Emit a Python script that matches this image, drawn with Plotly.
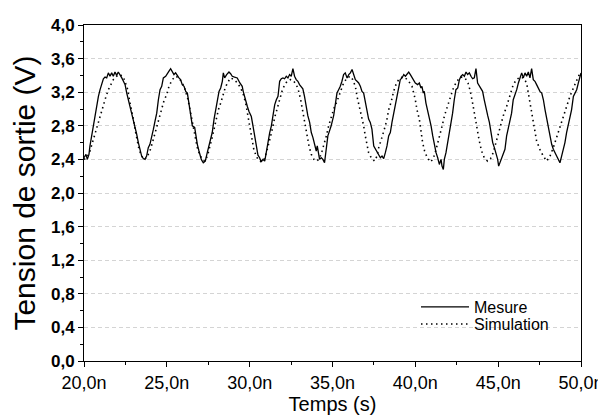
import plotly.graph_objects as go

# Mesure (time in ns, voltage in V)
mesure_points = [
    (20.00, 2.42), (20.12, 2.46), (20.20, 2.40), (20.30, 2.46), (20.36, 2.56), (20.46, 2.68), (20.56, 2.80), (20.67, 2.92), (20.77, 3.03), (20.87, 3.15),
    (20.97, 3.23), (21.07, 3.29), (21.17, 3.36), (21.27, 3.38), (21.37, 3.37), (21.47, 3.43), (21.57, 3.39), (21.67, 3.43), (21.77, 3.39), (21.87, 3.44),
    (21.97, 3.40), (22.07, 3.44), (22.17, 3.41), (22.28, 3.37), (22.38, 3.33), (22.48, 3.29), (22.58, 3.19), (22.68, 3.11), (22.78, 3.01), (22.88, 2.94),
    (22.98, 2.88), (23.08, 2.78), (23.18, 2.70), (23.28, 2.60), (23.38, 2.50), (23.48, 2.44), (23.58, 2.41), (23.68, 2.40), (23.78, 2.44), (23.88, 2.54),
    (23.98, 2.58), (24.09, 2.66), (24.19, 2.76), (24.29, 2.86), (24.39, 2.95), (24.49, 3.11), (24.59, 3.23), (24.69, 3.27), (24.79, 3.37), (24.93, 3.39),
    (25.03, 3.43), (25.13, 3.45), (25.23, 3.48), (25.33, 3.45), (25.43, 3.41), (25.53, 3.43), (25.63, 3.39), (25.73, 3.37), (25.83, 3.35), (25.93, 3.29),
    (26.04, 3.27), (26.14, 3.21), (26.24, 3.19), (26.34, 3.07), (26.44, 2.95), (26.54, 2.80), (26.68, 2.78), (26.78, 2.64), (26.84, 2.58), (26.94, 2.50),
    (27.08, 2.40), (27.20, 2.36), (27.32, 2.38), (27.44, 2.48), (27.60, 2.60), (27.74, 2.72), (27.85, 2.88), (27.95, 2.99), (28.05, 3.11), (28.15, 3.21),
    (28.25, 3.25), (28.35, 3.33), (28.41, 3.43), (28.49, 3.37), (28.61, 3.41), (28.75, 3.44), (28.85, 3.42), (28.95, 3.39), (29.09, 3.38), (29.25, 3.37),
    (29.41, 3.31), (29.55, 3.27), (29.61, 3.21), (29.76, 3.09), (29.86, 3.03), (29.96, 2.97), (30.10, 2.91), (30.20, 2.80), (30.30, 2.68), (30.40, 2.54),
    (30.50, 2.45), (30.60, 2.42), (30.70, 2.37), (30.80, 2.40), (30.91, 2.38), (31.00, 2.48), (31.11, 2.64), (31.21, 2.72), (31.31, 2.80), (31.41, 2.93),
    (31.51, 3.05), (31.61, 3.11), (31.71, 3.15), (31.81, 3.33), (31.91, 3.36), (32.01, 3.37), (32.11, 3.36), (32.21, 3.39), (32.31, 3.37), (32.41, 3.41),
    (32.51, 3.39), (32.61, 3.48), (32.71, 3.39), (32.81, 3.35), (32.91, 3.33), (33.01, 3.29), (33.11, 3.27), (33.21, 3.24), (33.31, 3.15), (33.41, 3.03),
    (33.51, 2.92), (33.62, 2.84), (33.72, 2.72), (33.82, 2.66), (33.92, 2.56), (34.02, 2.50), (34.08, 2.56), (34.16, 2.44), (34.22, 2.40), (34.32, 2.42),
    (34.42, 2.40), (34.52, 2.36), (34.62, 2.56), (34.72, 2.68), (34.82, 2.74), (34.92, 2.80), (35.07, 2.92), (35.17, 3.07), (35.27, 3.19), (35.37, 3.23),
    (35.47, 3.27), (35.57, 3.33), (35.67, 3.41), (35.77, 3.43), (35.88, 3.37), (35.98, 3.41), (36.08, 3.43), (36.18, 3.47), (36.28, 3.41), (36.38, 3.35),
    (36.48, 3.33), (36.58, 3.31), (36.68, 3.27), (36.78, 3.21), (36.88, 3.19), (36.98, 3.09), (37.08, 2.99), (37.18, 2.88), (37.28, 2.84), (37.38, 2.76),
    (37.49, 2.56), (37.59, 2.52), (37.69, 2.48), (37.79, 2.44), (37.89, 2.42), (37.99, 2.44), (38.09, 2.41), (38.19, 2.48), (38.29, 2.56), (38.39, 2.68),
    (38.49, 2.72), (38.59, 2.84), (38.69, 2.95), (38.79, 3.07), (38.89, 3.17), (38.99, 3.25), (39.09, 3.35), (39.20, 3.37), (39.30, 3.41), (39.40, 3.39),
    (39.50, 3.41), (39.60, 3.44), (39.70, 3.41), (39.80, 3.37), (39.90, 3.33), (40.00, 3.31), (40.14, 3.29), (40.24, 3.31), (40.34, 3.25), (40.40, 3.27),
    (40.48, 3.19), (40.54, 3.21), (40.64, 3.07), (40.74, 2.99), (40.84, 2.88), (40.95, 2.80), (41.05, 2.68), (41.15, 2.56), (41.25, 2.48), (41.35, 2.42),
    (41.45, 2.34), (41.55, 2.40), (41.61, 2.32), (41.69, 2.28), (41.75, 2.40), (41.85, 2.48), (41.95, 2.60), (42.05, 2.72), (42.15, 2.80), (42.25, 2.95),
    (42.35, 3.11), (42.45, 3.23), (42.56, 3.25), (42.66, 3.35), (42.76, 3.39), (42.86, 3.41), (42.96, 3.39), (43.06, 3.44), (43.16, 3.41), (43.26, 3.43),
    (43.36, 3.39), (43.46, 3.36), (43.56, 3.37), (43.66, 3.48), (43.76, 3.31), (43.86, 3.27), (43.96, 3.23), (44.06, 3.21), (44.16, 3.11), (44.27, 2.99),
    (44.37, 2.92), (44.47, 2.84), (44.57, 2.72), (44.67, 2.60), (44.77, 2.54), (44.87, 2.48), (44.97, 2.40), (45.03, 2.32), (45.11, 2.36), (45.23, 2.42),
    (45.31, 2.48), (45.41, 2.52), (45.51, 2.68), (45.61, 2.76), (45.71, 2.84), (45.81, 2.95), (45.91, 3.11), (46.02, 3.17), (46.12, 3.23), (46.22, 3.31),
    (46.32, 3.37), (46.42, 3.43), (46.52, 3.37), (46.62, 3.43), (46.72, 3.39), (46.82, 3.44), (46.92, 3.37), (47.02, 3.48), (47.12, 3.35), (47.22, 3.33),
    (47.32, 3.29), (47.42, 3.25), (47.52, 3.21), (47.63, 3.19), (47.73, 3.11), (47.83, 2.99), (47.93, 2.88), (48.03, 2.80), (48.13, 2.68), (48.23, 2.58),
    (48.33, 2.52), (48.43, 2.48), (48.53, 2.44), (48.63, 2.40), (48.73, 2.36), (48.83, 2.44), (48.93, 2.52), (49.03, 2.60), (49.13, 2.72), (49.23, 2.80),
    (49.33, 2.88), (49.43, 2.99), (49.54, 3.15), (49.64, 3.19), (49.74, 3.23), (49.84, 3.31), (49.94, 3.39), (50.00, 3.43),
]

# Simulation (time in ns, voltage in V)
simulation_points = [
    (20.00, 2.40), (20.20, 2.43), (20.36, 2.50), (20.48, 2.58), (20.60, 2.66), (20.73, 2.76), (20.87, 2.86), (21.01, 2.96), (21.17, 3.05), (21.33, 3.15),
    (21.47, 3.23), (21.61, 3.29), (21.77, 3.35), (21.97, 3.39), (22.17, 3.41), (22.38, 3.38), (22.52, 3.31), (22.64, 3.23), (22.74, 3.11), (22.88, 2.99),
    (22.98, 2.88), (23.08, 2.76), (23.18, 2.64), (23.32, 2.52), (23.48, 2.44), (23.62, 2.40), (23.78, 2.42), (23.98, 2.50), (24.13, 2.60), (24.27, 2.70),
    (24.39, 2.80), (24.53, 2.91), (24.69, 3.02), (24.83, 3.10), (24.99, 3.17), (25.13, 3.27), (25.33, 3.35), (25.53, 3.39), (25.74, 3.37), (25.88, 3.33),
    (26.04, 3.27), (26.16, 3.19), (26.28, 3.11), (26.40, 2.99), (26.52, 2.88), (26.64, 2.76), (26.74, 2.64), (26.84, 2.54), (26.98, 2.46), (27.14, 2.40),
    (27.28, 2.38), (27.45, 2.44), (27.59, 2.54), (27.71, 2.64), (27.85, 2.76), (27.99, 2.88), (28.11, 2.99), (28.25, 3.07), (28.35, 3.15), (28.49, 3.23),
    (28.65, 3.31), (28.85, 3.37), (29.06, 3.35), (29.26, 3.31), (29.46, 3.25), (29.62, 3.17), (29.76, 3.07), (29.86, 2.95), (29.96, 2.84), (30.05, 2.72),
    (30.15, 2.60), (30.25, 2.52), (30.36, 2.46), (30.50, 2.40), (30.70, 2.37), (30.87, 2.40), (31.01, 2.48), (31.15, 2.58), (31.27, 2.68), (31.41, 2.80),
    (31.51, 2.90), (31.67, 3.01), (31.81, 3.11), (31.95, 3.21), (32.11, 3.29), (32.27, 3.33), (32.46, 3.35), (32.62, 3.34), (32.82, 3.29), (32.96, 3.21),
    (33.08, 3.11), (33.18, 2.99), (33.28, 2.88), (33.38, 2.76), (33.48, 2.66), (33.58, 2.56), (33.72, 2.46), (33.88, 2.40), (34.07, 2.38), (34.23, 2.42),
    (34.37, 2.50), (34.49, 2.58), (34.63, 2.68), (34.77, 2.80), (34.93, 2.92), (35.09, 3.01), (35.27, 3.09), (35.47, 3.21), (35.67, 3.31), (35.88, 3.37),
    (36.08, 3.39), (36.22, 3.35), (36.38, 3.27), (36.48, 3.15), (36.58, 3.07), (36.68, 2.99), (36.78, 2.88), (36.88, 2.80), (36.98, 2.68), (37.08, 2.56),
    (37.18, 2.48), (37.34, 2.42), (37.53, 2.38), (37.69, 2.44), (37.79, 2.54), (37.95, 2.64), (38.09, 2.72), (38.19, 2.80), (38.29, 2.88), (38.39, 2.99),
    (38.55, 3.09), (38.69, 3.21), (38.83, 3.29), (38.99, 3.35), (39.20, 3.38), (39.40, 3.37), (39.60, 3.33), (39.80, 3.27), (39.90, 3.19), (40.00, 3.11),
    (40.10, 2.99), (40.24, 2.88), (40.34, 2.74), (40.44, 2.60), (40.56, 2.50), (40.70, 2.43), (40.90, 2.37), (41.06, 2.40), (41.20, 2.48), (41.34, 2.58),
    (41.48, 2.70), (41.62, 2.80), (41.76, 2.92), (41.92, 3.03), (42.10, 3.13), (42.30, 3.25), (42.50, 3.33), (42.75, 3.38), (43.00, 3.37), (43.18, 3.31),
    (43.32, 3.21), (43.44, 3.09), (43.54, 2.97), (43.64, 2.86), (43.74, 2.74), (43.86, 2.62), (44.00, 2.50), (44.16, 2.42), (44.36, 2.38), (44.54, 2.41),
    (44.70, 2.48), (44.84, 2.58), (44.98, 2.70), (45.12, 2.80), (45.31, 2.92), (45.51, 3.03), (45.71, 3.17), (45.91, 3.29), (46.11, 3.35), (46.32, 3.38),
    (46.52, 3.37), (46.72, 3.31), (46.82, 3.19), (46.92, 3.07), (47.02, 2.95), (47.12, 2.84), (47.22, 2.72), (47.32, 2.62), (47.52, 2.52), (47.72, 2.44),
    (47.93, 2.38), (48.13, 2.44), (48.33, 2.54), (48.53, 2.66), (48.73, 2.80), (48.93, 2.92), (49.13, 3.03), (49.33, 3.15), (49.54, 3.25), (49.74, 3.33),
    (49.94, 3.43),
]

t_mesure = [p[0] for p in mesure_points]
v_mesure = [p[1] for p in mesure_points]
t_simulation = [p[0] for p in simulation_points]
v_simulation = [p[1] for p in simulation_points]

FONT = "Arial, Liberation Sans, sans-serif"

fig = go.Figure()
fig.add_trace(go.Scatter(
    x=t_mesure, y=v_mesure, mode="lines", name="Mesure", showlegend=True,
    line=dict(color="black", width=1.3), legend="legend",
))
fig.add_trace(go.Scatter(
    x=t_simulation, y=v_simulation, mode="lines", name="Simulation", showlegend=True,
    line=dict(color="black", width=1.6, dash="1.5px,3.5px"), legend="legend2",
))

legend_common = dict(
    xanchor="left", yanchor="middle", bgcolor="rgba(0,0,0,0)", borderwidth=0,
    font=dict(family=FONT, size=16, color="black"), itemwidth=48, visible=True,
)

# the page body adds an 8px offset, so the figure is 598x411 inside a 606x419 window
fig.update_layout(
    width=598, height=411,
    margin=dict(l=76, r=25, t=17, b=58, autoexpand=False),
    paper_bgcolor="white", plot_bgcolor="white",
    separators=", ",
    showlegend=True,
    font=dict(family=FONT, color="black"),
    legend=dict(x=0.668, y=0.161, **legend_common),
    legend2=dict(x=0.668, y=0.110, **legend_common),
    xaxis=dict(
        range=[20, 50], tick0=20, dtick=5, tickformat=".1f", ticksuffix="n",
        ticks="outside", ticklen=5, tickwidth=1, tickcolor="black",
        showline=True, linecolor="black", linewidth=1, mirror=True,
        showgrid=False, zeroline=False, automargin=False,
        tickfont=dict(family=FONT, size=18, color="black"),
        title=dict(text="Temps (s)", font=dict(family=FONT, size=20, color="black"), standoff=4),
        minor=dict(dtick=2.5, tick0=20, ticks="outside", ticklen=3, tickcolor="black", showgrid=False),
    ),
    yaxis=dict(
        range=[0, 4], tick0=0, dtick=0.4, tickformat=".1f",
        ticks="outside", ticklen=5, tickwidth=1, tickcolor="black",
        showline=True, linecolor="black", linewidth=1, mirror=True,
        showgrid=True, gridcolor="#d4d4d4", griddash="4px,3px", gridwidth=1,
        zeroline=False, automargin=False,
        tickfont=dict(family=FONT, size=17, color="black", weight="bold"),
        title=dict(text="Tension de sortie (V)", font=dict(family=FONT, size=30, color="black"), standoff=9),
        minor=dict(dtick=0.2, tick0=0, ticks="outside", ticklen=3, tickcolor="black", showgrid=False),
    ),
)

fig.write_html("out.html")
